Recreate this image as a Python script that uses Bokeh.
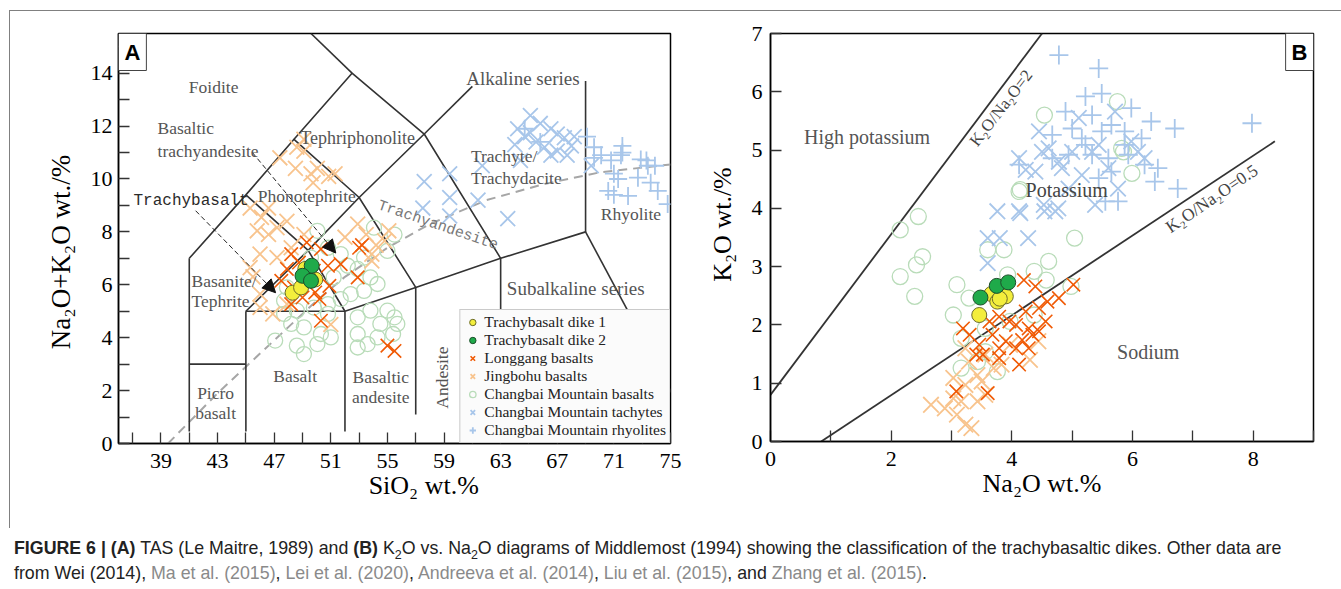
from bokeh.plotting import figure
from bokeh.models import (Label, Arrow, NormalHead, FixedTicker, Legend, LegendItem, Div)
from bokeh.layouts import row, column
from bokeh.embed import file_html
from bokeh.resources import INLINE

SERIF = "Liberation Serif"
MONO = "Liberation Mono"
NB = "\u00a0"

# ---------------- Panel A data: SiO2 (x) vs Na2O+K2O (y) ----------------
a_dike1_x = [48.3, 48.9, 49.2, 49.9, 49.4]
a_dike1_y = [5.7, 5.9, 6.6, 6.2, 6.3]
a_dike2_x = [49.65, 49.0, 49.6]
a_dike2_y = [6.72, 6.34, 6.15]
a_longgang_x = [49.3, 50.3, 48.2, 50.8, 51.7, 53.0, 53.2, 52.9, 47.9, 47.5, 48.4, 49.0, 49.9, 50.2,
                48.2, 50.3, 55.0, 55.5, 49.8, 48.75, 50.9]
a_longgang_y = [7.6, 7.35, 7.16, 6.72, 6.78, 7.4, 7.5, 6.28, 6.6, 6.15, 5.9, 5.52, 5.71, 5.46,
                5.27, 4.64, 3.7, 3.5, 6.53, 6.84, 5.96]
a_jingbohu_x = [47.4, 49.1, 48.5, 49.75, 50.85, 51.3, 49.1, 45.3, 46.1, 45.8, 46.6, 47.2, 47.9, 46.6,
                49.1, 48.2, 46.0, 47.2, 45.3, 46.0, 46.0, 46.9, 47.9, 51.0, 52.0, 53.9, 54.2, 53.5,
                55.1, 52.9, 54.8, 53.9, 45.5, 48.6, 50.05, 49.6]
a_jingbohu_y = [10.8, 11.05, 10.4, 9.86, 10.1, 10.2, 11.5, 8.9, 8.55, 8.04, 7.9, 8.16, 8.4, 8.9,
                7.9, 7.4, 7.16, 7.03, 6.65, 5.65, 5.14, 4.9, 5.27, 4.5, 7.8, 7.16, 7.5, 7.9,
                8.04, 8.3, 7.66, 6.9, 6.3, 11.2, 10.4, 10.2]
a_cbbasalt_x = [50.8, 51.7, 52.2, 51.2, 52.9, 53.8, 54.3, 53.35, 52.4, 51.7, 50.8, 49.8, 48.6, 47.7,
                48.2, 49.1, 50.3, 51.0, 48.6, 50.05, 52.9, 53.8, 55.0, 55.5, 54.5, 52.9, 53.6, 54.3,
                55.7, 55.5, 54.05, 55.0, 47.9, 50.8, 49.1, 47.7, 49.6, 53.35, 50.05, 47.07, 55.4, 52.9]
a_cbbasalt_y = [7.4, 7.16, 6.72, 6.28, 6.6, 6.28, 6.03, 5.77, 5.65, 5.46, 5.27, 5.14, 5.02, 4.9,
                4.52, 4.39, 4.14, 4.01, 3.7, 3.76, 4.77, 5.02, 5.02, 4.77, 4.52, 4.14, 3.76, 4.01,
                4.52, 7.9, 8.16, 7.28, 5.9, 4.9, 3.38, 5.4, 7.03, 7.03, 8.04, 3.89, 4.14, 3.63]
a_tachyte_x = [57.6, 57.5, 59.4, 59.4, 59.4, 61.4, 61.7, 63.5, 64.2, 64.4, 64.7, 65.1, 65.1, 65.8,
               66.1, 66.55, 66.55, 67.0, 67.0, 67.5, 67.7, 68.0, 68.2, 69.4, 65.5, 64.0]
a_tachyte_y = [9.9, 8.9, 10.2, 9.3, 8.6, 9.2, 10.5, 8.5, 11.9, 10.7, 11.6, 12.4, 11.75, 12.1,
               11.2, 11.9, 10.9, 11.7, 11.06, 11.56, 10.9, 11.25, 11.6, 10.5, 11.4, 11.3]
a_rhyolite_x = [64.7, 65.8, 69.1, 69.6, 70.1, 70.8, 71.6, 71.5, 72.9, 73.4, 73.9, 71.0, 71.3, 72.7,
                70.6, 71.0, 72.0, 73.6, 74.1, 74.8, 69.6, 71.6, 73.3]
a_rhyolite_y = [11.9, 11.4, 11.6, 11.2, 10.9, 10.7, 11.25, 10.9, 10.74, 10.5, 10.5, 10.2, 10.0, 10.05,
                9.55, 9.4, 9.36, 9.86, 9.55, 9.05, 10.8, 11.0, 10.7]

# TAS field boundaries (Le Maitre, 1989)
tas_lines_x = [[41, 41], [41, 45], [45, 45], [45, 52], [52, 52], [57, 57], [63, 63],
               [52, 57, 63, 69], [69, 77], [69, 69], [45, 49.4, 52],
               [41, 45, 49.4, 53, 57], [45, 48.4, 53, 57.6, 63], [48.4, 52.5, 57.6],
               [52.5, 49.6], [57.6, 61]]
tas_lines_y = [[0.45, 7], [3, 3], [0.45, 5], [5, 5], [0.45, 5], [1.1, 5.9], [0, 7],
               [5, 5.9, 7, 8], [8, 0], [8, 13.7], [5, 7.3, 5],
               [7, 9.4, 7.3, 9.3, 5.9], [9.4, 11.5, 9.3, 11.7, 7], [11.5, 14, 11.7],
               [14, 15.5], [11.7, 13.5]]
# Alkaline / subalkaline divide (Irvine & Baragar)
ib_curve_x = [39.5, 43, 45, 48, 50, 52, 55, 58, 62, 66, 70, 75]
ib_curve_y = [0, 1.9, 2.9, 4.4, 5.4, 6.3, 7.4, 8.3, 9.2, 9.8, 10.25, 10.55]

# ---------------- Panel B data: Na2O (x) vs K2O (y) ----------------
b_dike1_x = [3.46, 3.66, 3.90, 3.76, 3.80]
b_dike1_y = [2.17, 2.53, 2.49, 2.40, 2.45]
b_dike2_x = [3.48, 3.75, 3.94]
b_dike2_y = [2.47, 2.67, 2.73]
b_longgang_x = [4.20, 4.39, 5.02, 4.78, 4.59, 4.45, 4.23, 3.19, 3.30, 3.79, 4.07, 4.28, 4.45, 3.46,
                3.68, 3.90, 4.17, 4.34, 3.52, 3.79, 4.07, 4.28, 3.41, 3.79, 4.12, 3.60, 3.08, 4.56,
                3.96, 3.63]
b_longgang_y = [2.77, 2.66, 2.69, 2.46, 2.40, 2.29, 2.23, 1.94, 1.83, 2.14, 2.00, 1.94, 1.89, 1.66,
                1.83, 1.72, 1.74, 1.83, 1.49, 1.60, 1.60, 1.60, 1.49, 1.43, 1.32, 0.83, 0.86, 2.06,
                2.06, 2.06]
b_jingbohu_x = [2.66, 2.89, 3.09, 3.23, 3.33, 3.16, 3.43, 3.56, 3.23, 3.03, 3.43, 3.29, 3.56, 3.83,
                4.30, 4.44, 3.97, 3.23, 3.03, 3.50, 3.70]
b_jingbohu_y = [0.63, 0.57, 0.46, 0.29, 0.23, 0.69, 0.69, 0.80, 0.97, 1.09, 1.14, 1.37, 1.49, 1.32,
                1.40, 1.72, 1.66, 1.60, 0.74, 1.03, 1.26]
b_cbbasalt_x = [2.15, 2.45, 2.52, 2.42, 2.15, 2.39, 4.54, 5.75, 4.14, 5.04, 3.60, 3.87, 3.09, 3.93,
                4.37, 4.61, 4.57, 4.98, 3.03, 3.29, 3.16, 3.56, 3.97, 4.37, 3.16, 3.56, 3.76, 3.43,
                5.99, 5.85, 5.82, 4.12]
b_cbbasalt_y = [3.63, 3.86, 3.17, 3.03, 2.83, 2.49, 5.60, 5.83, 4.32, 3.49, 3.29, 3.29, 2.69, 2.86,
                2.92, 3.09, 2.77, 2.66, 2.17, 2.46, 1.77, 1.94, 2.06, 2.17, 1.26, 1.54, 1.20, 1.37,
                4.60, 4.97, 5.03, 4.29]
b_tachyte_x = [3.60, 3.80, 4.27, 3.60, 3.76, 4.14, 4.54, 4.77, 4.12, 4.53, 4.72, 4.12, 4.23, 4.45,
               4.50, 4.39, 4.83, 5.00, 5.16, 5.33, 5.38, 5.60, 5.76, 5.71, 5.98, 6.09, 5.11, 5.44,
               4.94, 4.61, 4.78, 6.20]
b_tachyte_y = [3.49, 3.49, 3.49, 3.06, 3.95, 3.92, 3.95, 4.00, 3.95, 4.06, 3.95, 4.86, 4.66, 5.32,
               4.97, 4.63, 4.69, 4.97, 4.57, 4.97, 4.06, 4.69, 4.34, 5.66, 5.15, 4.97, 5.55, 5.09,
               4.34, 5.03, 4.80, 4.86]
b_rhyolite_x = [4.78, 5.44, 5.49, 5.22, 4.89, 5.33, 5.98, 6.31, 6.70, 4.67, 5.00, 5.16, 5.49, 5.65,
                5.87, 6.15, 4.12, 4.67, 4.94, 5.33, 5.60, 5.93, 6.20, 6.42, 6.37, 5.44, 5.65, 5.76,
                5.55, 6.75, 5.87, 5.22, 7.98]
b_rhyolite_y = [6.63, 6.40, 5.97, 5.92, 5.66, 5.60, 5.72, 5.49, 5.37, 5.26, 5.37, 5.20, 5.32, 5.43,
                5.32, 5.20, 4.75, 4.86, 4.92, 4.92, 4.86, 4.92, 4.75, 4.69, 4.46, 4.52, 4.63, 4.12,
                4.12, 4.34, 5.09, 5.09, 5.46]
# Middlemost (1994) dividing lines
b_line_hk_x = [0, 4.5]
b_line_hk_y = [0.8, 7]
b_line_na_x = [0.84, 8.36]
b_line_na_y = [0, 5.15]

# ---------------- styles ----------------
C_D1, C_D2 = "#f3ee3c", "#1faa4a"
C_LG, C_JB = "#f05a05", "#f8c48e"
C_CB, C_BLUE = "#b9dcb9", "#a8c6ea"
GRAY = "#555555"


def style_axes(p, xt, xminor, yt, yminor):
    p.xaxis.ticker = FixedTicker(ticks=xt, minor_ticks=xminor)
    p.yaxis.ticker = FixedTicker(ticks=yt, minor_ticks=yminor)
    for ax in (p.xaxis, p.yaxis):
        ax.axis_line_color = "black"
        ax.axis_line_width = 1.5
        ax.major_tick_in = 11
        ax.major_tick_out = 0
        ax.minor_tick_in = 11
        ax.minor_tick_out = 0
        ax.major_tick_line_width = 1.3
        ax.minor_tick_line_width = 1.3
        ax.major_tick_line_color = "#333"
        ax.minor_tick_line_color = "#333"
        ax.major_label_text_font = SERIF
        ax.major_label_text_font_size = "22px"
        ax.major_label_text_color = "black"
        ax.axis_label_text_font = SERIF
        ax.axis_label_text_font_size = "26px"
        ax.axis_label_text_font_style = "normal"
        ax.axis_label_text_color = "black"
    p.xaxis.major_label_standoff = 10
    p.xaxis.axis_label_standoff = 0
    p.yaxis.major_label_standoff = 6
    p.yaxis.axis_label_standoff = 12
    p.xgrid.visible = False
    p.ygrid.visible = False
    p.outline_line_color = "black"
    p.outline_line_width = 1.5
    p.background_fill_color = "white"
    p.border_fill_color = "white"


def add_label(p, text, x, y, size="17.5px", color=GRAY, align="center", font=SERIF, angle=0.0):
    p.add_layout(Label(x=x, y=y, text=text, text_font=font, text_font_size=size,
                       text_color=color, text_align=align, text_baseline="middle", angle=angle))


# ================= Panel A =================
pA = figure(frame_width=552, frame_height=410, x_range=(36, 75), y_range=(0, 15.5),
            min_border_left=108, min_border_right=30, min_border_top=22, min_border_bottom=85,
            toolbar_location=None, output_backend="svg")
style_axes(pA, list(range(39, 76, 4)), list(range(37, 76, 4)),
           list(range(0, 15, 2)), list(range(1, 16, 2)))
# the original titles sit a little off-centre; no-break spaces reproduce that offset
pA.xaxis.axis_label = NB * 9 + "SiO₂ wt.%"
pA.yaxis.axis_label = "Na₂O+K₂O wt./%" + NB * 4
pA.yaxis.axis_label_text_font_size = "27px"

pA.line(ib_curve_x, ib_curve_y, line_color="#a6a6a6", line_width=2, line_dash="9 6")
pA.multi_line(tas_lines_x, tas_lines_y, line_color="#333333", line_width=1.6)

r_cb = pA.scatter(a_cbbasalt_x, a_cbbasalt_y, marker="circle", size=15, fill_color=None,
                  line_color=C_CB, line_width=1.3)
r_jb = pA.scatter(a_jingbohu_x, a_jingbohu_y, marker="x", size=21, line_color=C_JB, line_width=1.8)
r_ta = pA.scatter(a_tachyte_x, a_tachyte_y, marker="x", size=21, line_color=C_BLUE, line_width=1.8)
r_rh = pA.scatter(a_rhyolite_x, a_rhyolite_y, marker="cross", size=18, line_color=C_BLUE, line_width=1.8)
r_lg = pA.scatter(a_longgang_x, a_longgang_y, marker="x", size=19, line_color=C_LG, line_width=1.6)
r_d1 = pA.scatter(a_dike1_x, a_dike1_y, marker="circle", size=15, fill_color=C_D1,
                  line_color="#6b6b2a", line_width=1)
r_d2 = pA.scatter(a_dike2_x, a_dike2_y, marker="circle", size=15, fill_color=C_D2,
                  line_color="#1d4d2a", line_width=1)

# leader arrows
arrow_start_x = [45.46, 41.45]
arrow_start_y = [11.0, 8.8]
arrow_end_x = [51.35, 47.1]
arrow_end_y = [7.2, 5.7]
for xs, ys, xe, ye in zip(arrow_start_x, arrow_start_y, arrow_end_x, arrow_end_y):
    pA.add_layout(Arrow(end=NormalHead(size=13, fill_color="#111", line_color="#111"),
                        x_start=xs, y_start=ys, x_end=xe, y_end=ye,
                        line_dash="5 3", line_width=1, line_color="#222"))

add_label(pA, "Foidite", 42.72, 13.47)
add_label(pA, "Basaltic", 38.76, 11.92, align="left")
add_label(pA, "trachyandesite", 38.76, 11.06, align="left")
add_label(pA, "Tephriphonolite", 52.9, 11.55, size="18px")
add_label(pA, "Alkaline series", 64.57, 13.81, size="19px")
add_label(pA, "Trachyte/", 60.9, 10.87, align="left")
add_label(pA, "Trachydacite", 60.9, 10.04, align="left")
add_label(pA, "Phonotephrite", 49.3, 9.36)
add_label(pA, "Trachybasalt", 37.06, 9.17, size="16px", color="#2a2a2a", align="left", font=MONO)
add_label(pA, "Trachyandesite", 58.56, 8.23, size="15px", color="#777", font=MONO, angle=-0.33)
add_label(pA, "Basanite/", 41.16, 6.15, align="left")
add_label(pA, "Tephrite", 41.16, 5.4, align="left")
add_label(pA, "Rhyolite", 72.2, 8.68)
add_label(pA, "Subalkaline series", 68.3, 5.85, size="19px")
add_label(pA, "Basalt", 48.48, 2.57)
add_label(pA, "Basaltic", 54.53, 2.53)
add_label(pA, "andesite", 54.53, 1.77)
add_label(pA, "Andesite", 58.84, 2.49, angle=1.5708)
add_label(pA, "Picro", 42.86, 1.92)
add_label(pA, "basalt", 42.86, 1.17)

pA.add_layout(Label(x=36, y=15.5, text="A", text_font="Liberation Sans", text_font_size="22px",
                    text_font_style="bold", text_color="black", anchor="top_left",
                    text_align="left", text_baseline="top",
                    padding=6, border_line_color="#444", border_line_width=1,
                    background_fill_color="white"))

legend = Legend(items=[
    LegendItem(label="Trachybasalt dike 1", renderers=[r_d1]),
    LegendItem(label="Trachybasalt dike 2", renderers=[r_d2]),
    LegendItem(label="Longgang basalts", renderers=[r_lg]),
    LegendItem(label="Jingbohu basalts", renderers=[r_jb]),
    LegendItem(label="Changbai Mountain basalts", renderers=[r_cb]),
    LegendItem(label="Changbai Mountain tachytes", renderers=[r_ta]),
    LegendItem(label="Changbai Mountain rhyolites", renderers=[r_rh]),
], location="bottom_right")
legend.margin = 0
legend.padding = 3
legend.spacing = 0
legend.label_text_font = SERIF
legend.label_text_font_size = "15.5px"
legend.label_text_color = "#222"
legend.label_height = 16
legend.glyph_height = 16
legend.glyph_width = 18
legend.label_standoff = 3
legend.border_line_color = "#999"
legend.border_line_width = 1
legend.background_fill_color = "#fbfbfb"
legend.background_fill_alpha = 1
pA.add_layout(legend)

# ================= Panel B =================
pB = figure(frame_width=543, frame_height=408, x_range=(0, 9), y_range=(0, 7),
            min_border_left=70, min_border_right=28, min_border_top=21, min_border_bottom=88,
            toolbar_location=None, output_backend="svg")
style_axes(pB, [0, 2, 4, 6, 8], [1, 3, 5, 7, 9], list(range(0, 8)), [])
pB.xaxis.axis_label = "Na₂O wt.%"
pB.yaxis.axis_label = NB * 4 + "K₂O wt./%"
pB.yaxis.major_label_standoff = 8

pB.line(b_line_hk_x, b_line_hk_y, line_color="#333333", line_width=1.8)
pB.line(b_line_na_x, b_line_na_y, line_color="#333333", line_width=1.8)

pB.scatter(b_cbbasalt_x, b_cbbasalt_y, marker="circle", size=16, fill_color=None,
           line_color=C_CB, line_width=1.3)
pB.scatter(b_jingbohu_x, b_jingbohu_y, marker="x", size=22, line_color=C_JB, line_width=1.8)
pB.scatter(b_tachyte_x, b_tachyte_y, marker="x", size=22, line_color=C_BLUE, line_width=1.8)
pB.scatter(b_rhyolite_x, b_rhyolite_y, marker="cross", size=19, line_color=C_BLUE, line_width=1.8)
pB.scatter(b_longgang_x, b_longgang_y, marker="x", size=19, line_color=C_LG, line_width=1.6)
pB.scatter(b_dike1_x, b_dike1_y, marker="circle", size=15, fill_color=C_D1,
           line_color="#6b6b2a", line_width=1)
pB.scatter(b_dike2_x, b_dike2_y, marker="circle", size=15, fill_color=C_D2,
           line_color="#1d4d2a", line_width=1)

add_label(pB, "High potassium", 1.60, 5.23, size="20px")
add_label(pB, "K₂O/Na₂O=2", 3.82, 5.72, size="17px", color="#444", angle=0.913)
add_label(pB, "Potassium", 4.91, 4.31, size="20px", color="#444")
add_label(pB, "K₂O/Na₂O=0.5", 7.31, 4.17, size="17.5px", color="#444", angle=0.599)
add_label(pB, "Sodium", 6.26, 1.53, size="20px")

pB.add_layout(Label(x=9, y=7, text="B", text_font="Liberation Sans", text_font_size="22px",
                    text_font_style="bold", text_color="black", anchor="top_right",
                    text_align="left", text_baseline="top",
                    padding=6, border_line_color="#444", border_line_width=1,
                    background_fill_color="white"))

panels = row(pA, pB, margin=(10, 0, 0, 9),
             styles={"border-top": "1px solid #808080", "border-left": "1px solid #808080"})

GREY_SPAN = '<span style="color:#8a8a8a">'
caption_html = (
    '<div style="font-family:\'Liberation Sans\',Arial,sans-serif;font-size:17.8px;line-height:25px;'
    'color:#222;white-space:nowrap;padding:8px 0 0 14px;">'
    '<b>FIGURE 6 | (A)</b> TAS (Le Maitre, 1989) and <b>(B)</b> '
    'K<sub style="line-height:0;font-size:70%">2</sub>O vs. Na<sub style="line-height:0;font-size:70%">2</sub>O '
    'diagrams of Middlemost (1994) showing the classification of the trachybasaltic dikes. Other data are<br>'
    'from Wei (2014), ' + GREY_SPAN + 'Ma et al. (2015)</span>, '
    + GREY_SPAN + 'Lei et al. (2020)</span>, '
    + GREY_SPAN + 'Andreeva et al. (2014)</span>, '
    + GREY_SPAN + 'Liu et al. (2015)</span>, and '
    + GREY_SPAN + 'Zhang et al. (2015)</span>.</div>'
)
caption = Div(text=caption_html, width=1341, height=61, margin=(0, 0, 0, 0))

layout = column(panels, caption, margin=(0, 0, 0, 0))

open("out.html", "w").write(file_html(layout, INLINE))
